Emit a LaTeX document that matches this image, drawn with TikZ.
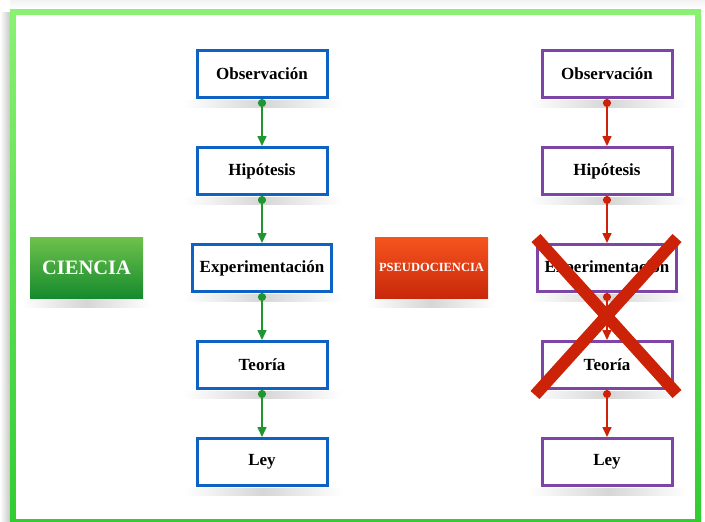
\documentclass[tikz,border=0pt]{standalone}
\usepackage{fontspec}
\setmainfont{Liberation Serif}
\usetikzlibrary{arrows.meta}
\definecolor{azul}{HTML}{0D62C3}
\definecolor{morado}{HTML}{7D45A6}
\definecolor{verde}{HTML}{1F9630}
\definecolor{rojo}{HTML}{CC2208}
\definecolor{marcoA}{HTML}{8AF272}
\definecolor{marcoB}{HTML}{30CC30}
\definecolor{cienA}{HTML}{6EC24C}
\definecolor{cienB}{HTML}{158A2D}
\definecolor{pseuA}{HTML}{F6541E}
\definecolor{pseuB}{HTML}{C8280B}
\tikzset{
  paso/.style={draw=azul,line width=3pt,fill=white,minimum width=130pt,minimum height=47pt,
    inner sep=0pt,font=\bfseries\fontsize{17}{19}\selectfont},
  pasop/.style={paso,draw=morado},
  flechav/.style={draw=verde,line width=1.6pt,{Circle[length=8pt]}-{Triangle[length=10pt,width=9pt]}},
  flechar/.style={flechav,draw=rojo,fill=rojo},
  sombra/.style={left color=white,right color=white,middle color=black!16}
}
\begin{document}
\begin{tikzpicture}[x=1pt,y=-1pt]
            \useasboundingbox (0,0) rectangle (705,522);
            % marco
            \shade[left color=white,right color=black!22] (0,12) rectangle (10,522);
            \shade[top color=black!5,bottom color=white] (10,0) rectangle (705,9);
            \shade[top color=marcoA,bottom color=marcoB] (10,9) rectangle (701,522);
            \fill[white] (16,15) rectangle (695,519);

            % sombras
            \foreach \x in {262,607}
              \foreach \y in {99,196,293,390,487}
                \shade[sombra] (\x-78,\y+1) rectangle (\x+80,\y+8);
            \shade[sombra] (22,299) rectangle (150,307);
            \shade[sombra] (367,299) rectangle (495,307);

            \node[paso] (o1) at (262,74) {Observación};
            \node[paso] (h1) at (262,171) {Hipótesis};
            \node[paso,minimum width=139pt] (e1) at (262,268) {Experimentación};
            \node[paso] (t1) at (262,365) {Teoría};
            \node[paso] (l1) at (262,462) {Ley};

            \node[pasop] (o2) at (607,74) {Observación};
            \node[pasop] (h2) at (607,171) {Hipótesis};
            \node[pasop,minimum width=139pt] (e2) at (607,268) {Experimentación};
            \node[pasop] (t2) at (607,365) {Teoría};
            \node[pasop] (l2) at (607,462) {Ley};

            \node[top color=cienA,bottom color=cienB,minimum width=113pt,minimum height=61pt,
                  text=white,font=\bfseries\fontsize{20.5}{22}\selectfont] (c) at (86.5,267.5) {CIENCIA};
            \node[top color=pseuA,bottom color=pseuB,minimum width=113pt,minimum height=61pt,
                  text=white,font=\bfseries\fontsize{12.5}{14}\selectfont] (p) at (431.5,267.5) {PSEUDOCIENCIA};

            \draw[flechav] (o1.south) -- (h1.north);
            \draw[flechav] (h1.south) -- (e1.north);
            \draw[flechav] (e1.south) -- (t1.north);
            \draw[flechav] (t1.south) -- (l1.north);

            \draw[flechar] (o2.south) -- (h2.north);
            \draw[flechar] (h2.south) -- (e2.north);
            \draw[flechar] (e2.south) -- (t2.north);
            \draw[flechar] (t2.south) -- (l2.north);

            % la cruz
            \draw[rojo,line width=12pt] (536,238) -- (677,394)
                                        (677,238) -- (535,395);
        \end{tikzpicture}
\end{document}
